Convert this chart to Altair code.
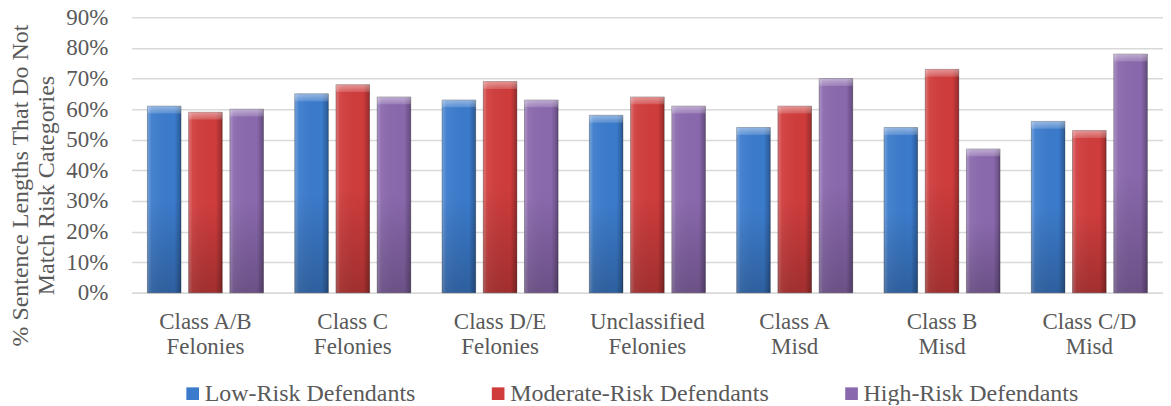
import altair as alt
import pandas as pd

categories = ["Class A/B Felonies", "Class C Felonies", "Class D/E Felonies",
              "Unclassified Felonies", "Class A Misd", "Class B Misd", "Class C/D Misd"]
series = ["Low-Risk Defendants", "Moderate-Risk Defendants", "High-Risk Defendants"]
low = [61, 65, 63, 58, 54, 54, 56]
moderate = [59, 68, 69, 64, 61, 73, 53]
high = [60, 64, 63, 61, 70, 47, 78]
colors = ["#3b7bcc", "#d03c3c", "#8a68ad"]
y_ticks = [0, 10, 20, 30, 40, 50, 60, 70, 80, 90]

rows = []
for s, vals in zip(series, [low, moderate, high]):
    for c, v in zip(categories, vals):
        rows.append({"category": c, "series": s, "value": v})
df = pd.DataFrame(rows)

FONT = "Liberation Serif"
TXT = "#595959"

x_enc = alt.X("category:N", sort=categories,
              scale=alt.Scale(paddingInner=0, paddingOuter=0),
              axis=alt.Axis(title=None, labelAngle=0, ticks=False, tickSize=0,
                            labelPadding=18, labelFont=FONT, labelFontSize=23,
                            labelColor=TXT, labelLineHeight=25, labelBaseline="top",
                            labelOverlap=False,
                            labelExpr="[slice(datum.label, 0, lastindexof(datum.label, ' ')), slice(datum.label, lastindexof(datum.label, ' ') + 1)]",
                            domainColor="#d9d9d9", domainWidth=1.5, grid=False))
xo_enc = alt.XOffset("series:N", sort=series,
                     scale=alt.Scale(paddingInner=0.184, paddingOuter=0.379))
y_scale = alt.Scale(domain=[0, 90], nice=False)
y_axis = alt.Axis(values=y_ticks, labelExpr="datum.value + '%'",
                  labelOverlap=False,
                  title=["% Sentence Lengths That Do Not", "Match Risk Categories"],
                  titleFont=FONT, titleFontSize=24, titleFontWeight="normal",
                  titleColor=TXT, titleAngle=270, titleX=-104, titleY=168,
                  titleAlign="center", titleBaseline="alphabetic",
                  titleLineHeight=26,
                  labelFont=FONT, labelFontSize=23, labelColor=TXT,
                  labelPadding=24, ticks=False, tickSize=0, domain=False,
                  gridColor="#d9d9d9", gridWidth=1.5)
y_enc = alt.Y("value:Q", scale=y_scale, axis=y_axis)

base = alt.Chart(df)

bars = base.mark_bar().encode(
    x=x_enc,
    xOffset=xo_enc,
    y=y_enc,
    color=alt.Color("series:N", sort=series,
                    scale=alt.Scale(domain=series, range=colors),
                    legend=alt.Legend(orient="none", legendX=49, legendY=365,
                                      direction="horizontal", title=None,
                                      symbolType="square", symbolSize=160,
                                      symbolStrokeWidth=0, labelLimit=500,
                                      labelFont=FONT, labelFontSize=24,
                                      labelColor=TXT, columnPadding=70,
                                      labelOffset=0, padding=0)),
)

shade_h = base.mark_bar(
    stroke="rgba(0,0,0,0.28)", strokeWidth=1,
    fill=alt.Gradient(gradient="linear", x1=0, x2=1, y1=0, y2=0, stops=[
        alt.GradientStop(color="rgba(255,255,255,0.30)", offset=0),
        alt.GradientStop(color="rgba(255,255,255,0.06)", offset=0.12),
        alt.GradientStop(color="rgba(0,0,0,0.0)", offset=0.8),
        alt.GradientStop(color="rgba(0,0,0,0.28)", offset=1),
    ])
).encode(x=x_enc, xOffset=xo_enc, y=y_enc)

shade_v = base.mark_bar(
    fill=alt.Gradient(gradient="linear", x1=0, x2=0, y1=0, y2=1, stops=[
        alt.GradientStop(color="rgba(0,0,0,0.0)", offset=0),
        alt.GradientStop(color="rgba(0,0,0,0.0)", offset=0.5),
        alt.GradientStop(color="rgba(0,0,0,0.22)", offset=1),
    ])
).encode(x=x_enc, xOffset=xo_enc, y=y_enc)

top_cap = base.transform_calculate(cap="datum.value - 2.4").mark_bar(
    fill=alt.Gradient(gradient="linear", x1=0, x2=0, y1=0, y2=1, stops=[
        alt.GradientStop(color="rgba(255,255,255,0.45)", offset=0),
        alt.GradientStop(color="rgba(255,255,255,0.15)", offset=1),
    ])
).encode(x=x_enc, xOffset=xo_enc, y=y_enc, y2="cap:Q")

chart = alt.layer(bars, shade_h, shade_v, top_cap).properties(
    width=1033, height=276,
    autosize=alt.AutoSizeParams(type="none"),
    padding={"left": 124, "top": 9, "right": 0, "bottom": 112},
).configure_view(stroke=None)

chart.save("out.html", embed_options={"renderer": "svg", "actions": False})
